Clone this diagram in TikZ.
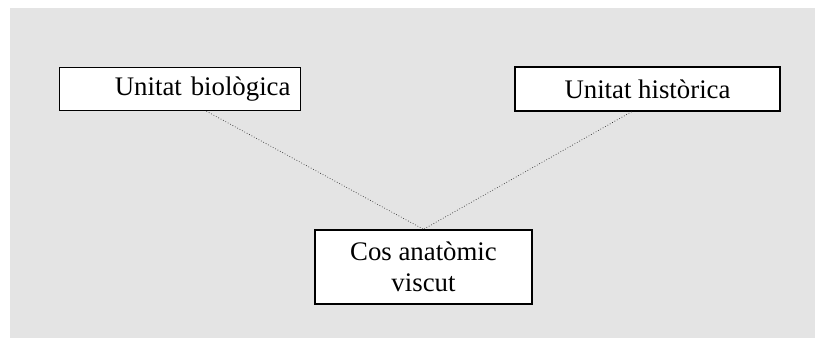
\documentclass[tikz,border=0pt]{standalone}
\usepackage{fontspec}
\setmainfont{Liberation Serif}
\usepackage{xcolor}
\usepackage{tikz}
\definecolor{panelgray}{HTML}{E4E4E4}

\begin{document}
\begin{tikzpicture}[x=1pt, y=1pt,
    unitbox/.style={rectangle, draw=black, line width=1.4pt, fill=white,
        inner sep=0pt, font=\fontsize{26.8}{31}\selectfont, align=center},
    link/.style={dotted, line width=0.7pt, black!80}]
    \useasboundingbox (0,0) rectangle (815,338);
    \fill[panelgray] (10,0) rectangle (815,330);

    \node[unitbox, minimum width=241, minimum height=43, text width=221, align=right] (bio) at (180,249) {Unitat biològica};
    \node[unitbox, minimum width=265, minimum height=44] (hist) at (647.5,249) {Unitat històrica};
    \node[unitbox, minimum width=217, minimum height=74] (cos) at (423.5,71) {Cos anatòmic\\viscut};

    \draw[link] (bio.-40) -- (cos.north);
    \draw[link] (hist.-125) -- (cos.north);
\end{tikzpicture}
\end{document}
